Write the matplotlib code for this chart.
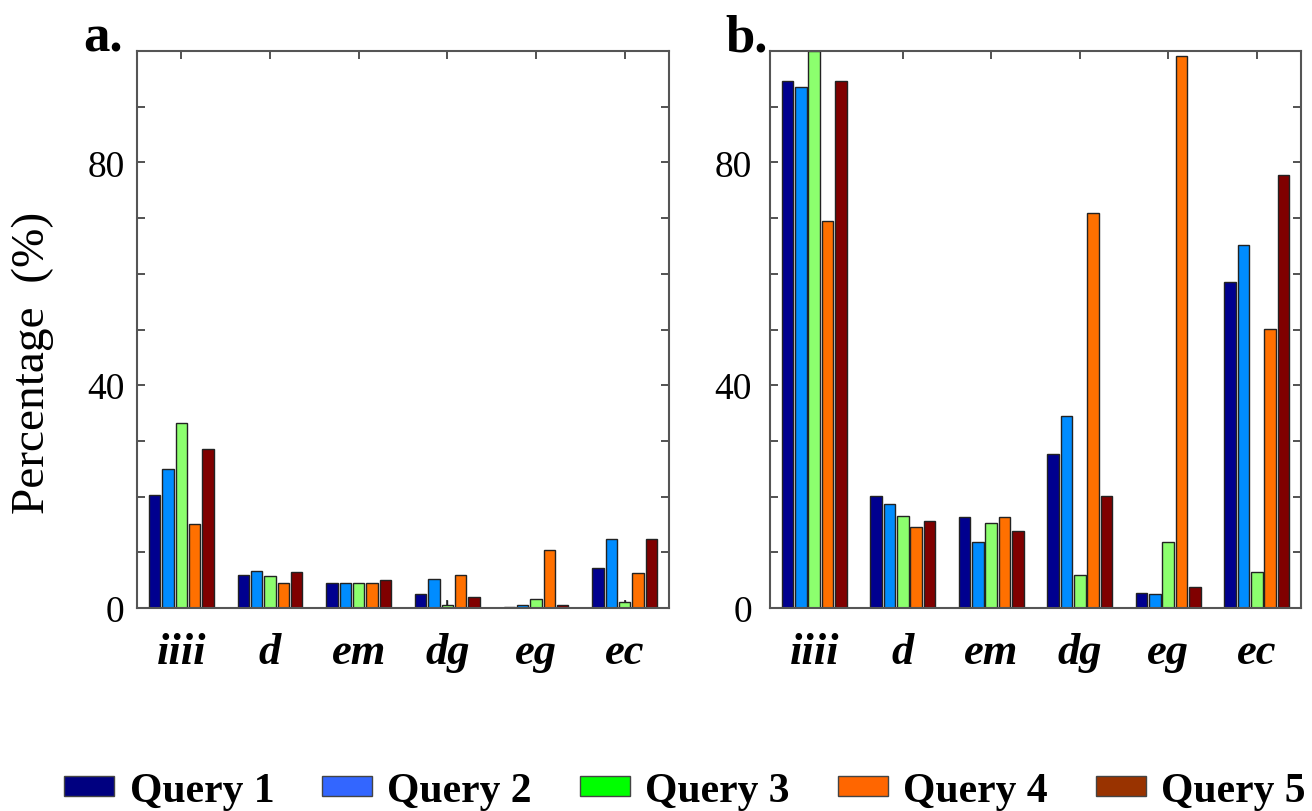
import matplotlib
matplotlib.use("Agg")
import matplotlib.pyplot as plt
import numpy as np
from matplotlib.patches import Patch

categories = ["iiii", "d", "em", "dg", "eg", "ec"]
series_names = ["Query 1", "Query 2", "Query 3", "Query 4", "Query 5"]

# Panel a values (%)
a_q1 = [20.2, 6.0, 4.4, 2.6, 0.2, 7.1]
a_q2 = [25.0, 6.6, 4.4, 5.2, 0.6, 12.4]
a_q3 = [33.2, 5.8, 4.4, 0.6, 1.6, 1.0]
a_q4 = [15.1, 4.4, 4.4, 6.0, 10.5, 6.3]
a_q5 = [28.6, 6.4, 5.0, 2.0, 0.6, 12.4]
a_q3_err = [0, 0, 0, 0.8, 0, 0.5]

# Panel b values (%)
b_q1 = [94.7, 20.1, 16.3, 27.7, 2.7, 58.5]
b_q2 = [93.5, 18.7, 11.9, 34.5, 2.5, 65.1]
b_q3 = [100.0, 16.5, 15.3, 5.9, 11.9, 6.5]
b_q4 = [69.5, 14.5, 16.3, 70.9, 99.1, 50.1]
b_q5 = [94.7, 15.7, 13.9, 20.1, 3.7, 77.7]

bar_colors = ["#00008F", "#008CFF", "#8CFF6E", "#FF7000", "#800000"]
legend_colors = ["#000080", "#3366FF", "#00FF00", "#FF6600", "#993300"]

ytick_vals = [0, 40, 80]

plt.rcParams["font.family"] = ["Liberation Serif", "DejaVu Serif"]

fig = plt.figure(figsize=(13.12, 8.12), dpi=100)
W, H = 1312, 812

def make_ax(left_px, right_px):
    return fig.add_axes([left_px / W, 1 - 609 / H, (right_px - left_px) / W, 557 / H])

ax_a = make_ax(137, 669)
ax_b = make_ax(770, 1301)

x = np.arange(len(categories))
width = 0.13
step = 0.15

def draw(ax, series, err=None, label_pad=9):
    for i, vals in enumerate(series):
        pos = x + (i - 2) * step
        ax.bar(pos, vals, width=width, color=bar_colors[i], edgecolor="#222222",
               linewidth=1.0, zorder=2)
        if err is not None and i == 2:
            e = np.array(err, dtype=float)
            v = np.array(vals, dtype=float)
            mask = e > 0
            ax.errorbar(pos[mask], v[mask], yerr=[np.zeros(mask.sum()), e[mask]],
                        fmt="none", ecolor="#222222", elinewidth=1.0, capsize=0, zorder=3)
    ax.set_xlim(-0.5, 5.5)
    ax.set_ylim(0, 100)
    ax.set_xticks(x)
    ax.set_xticklabels(categories, fontsize=32, fontweight="bold", fontstyle="italic")
    ax.set_yticks(np.arange(0, 101, 10))
    ax.set_yticklabels([str(v) if v in ytick_vals else "" for v in range(0, 101, 10)],
                       fontsize=27)
    ax.tick_params(axis="both", direction="in", length=6, width=1.3, color="#444444",
                   top=True, right=True)
    ax.tick_params(axis="x", pad=17)
    ax.tick_params(axis="y", pad=label_pad)
    for s in ax.spines.values():
        s.set_color("#555555")
        s.set_linewidth(1.5)

draw(ax_a, [a_q1, a_q2, a_q3, a_q4, a_q5], err=a_q3_err, label_pad=9)
draw(ax_b, [b_q1, b_q2, b_q3, b_q4, b_q5], label_pad=13)

fig.text(33 / W, 1 - 363 / H, "Percentage  (%)", rotation=90, fontsize=34,
         ha="center", va="center")

fig.text(123 / W, 1 - 52 / H, "a.", fontsize=38, fontweight="bold", ha="right", va="baseline")
fig.text(768 / W, 1 - 52 / H, "b.", fontsize=38, fontweight="bold", ha="right", va="baseline")

handles = [Patch(facecolor=c, edgecolor="#444444", linewidth=1.0) for c in legend_colors]
fig.legend(handles, series_names, loc="center", bbox_to_anchor=(0.522, 1 - 792 / H),
           ncol=5, frameon=False, prop={"weight": "bold", "size": 30},
           handlelength=1.2, handleheight=0.35, handletextpad=0.37, columnspacing=1.15,
           borderpad=0.1)

fig.savefig("out.png", dpi=100)
